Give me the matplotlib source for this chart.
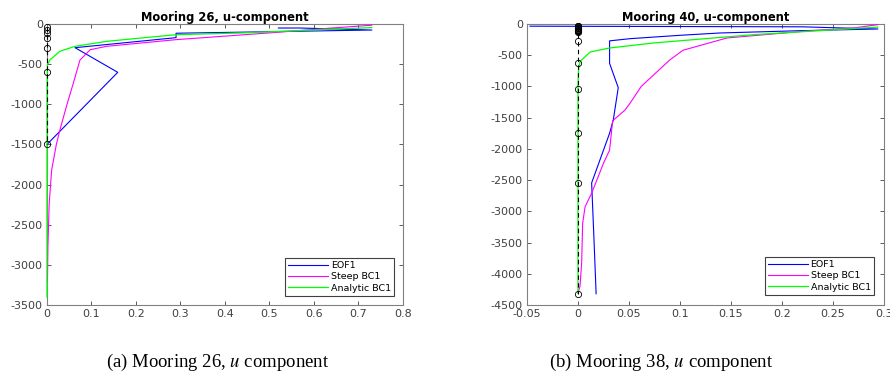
import numpy as np
import matplotlib.pyplot as plt

plt.rcParams['axes.unicode_minus'] = False
plt.rcParams['mathtext.fontset'] = 'stix'

# ---- Mooring 26 profiles (value, depth) ----
m26_eof_x = [0.52, 0.57, 0.73, 0.29, 0.29, 0.063, 0.159, 0.0]
m26_eof_z = [-50, -50, -75, -115, -170, -295, -602, -1500]

m26_steep_x = [0.73, 0.64, 0.51, 0.29, 0.134, 0.097, 0.074, 0.059, 0.045, 0.029,
               0.021, 0.0105, 0.005, 0.002, 0.001]
m26_steep_z = [-15, -50, -107, -195, -278, -320, -450, -740, -1000, -1320,
               -1500, -1820, -2230, -2780, -3200]

m26_anal_x = [0.73, 0.434, 0.29, 0.134, 0.063, 0.029, 0.007, 0.001, 0.0, 0.0]
m26_anal_z = [-45, -112, -133, -216, -278, -340, -445, -510, -800, -3400]

m26_inst_z = [-35, -75, -115, -175, -300, -600, -1500]

# ---- Mooring 40 profiles ----
m40_eof_x = [-0.047, 0.22, 0.294, 0.218, 0.139, 0.10, 0.051, 0.031, 0.031, 0.0395,
             0.0346, 0.031, 0.0134, 0.0144, 0.016, 0.0178]
m40_eof_z = [-35, -45, -80, -107, -144, -181, -235, -270, -630, -1020,
             -1540, -1750, -2545, -2930, -3570, -4320]

m40_steep_x = [0.294, 0.27, 0.221, 0.146, 0.103, 0.09, 0.062, 0.051, 0.046, 0.034,
               0.031, 0.025, 0.0134, 0.007, 0.0046, 0.0036, 0.002, 0.0]
m40_steep_z = [-10, -64, -117, -224, -420, -576, -1000, -1270, -1380, -1550,
               -2020, -2230, -2710, -2925, -3190, -3830, -4200, -4310]

m40_anal_x = [0.294, 0.172, 0.074, 0.031, 0.012, 0.002, 0.0005, 0.0, 0.0]
m40_anal_z = [-50, -171, -304, -384, -448, -600, -740, -1000, -4310]

m40_inst_z = [-30, -40, -50, -60, -70, -80, -90, -100, -110, -120, -135,
              -277, -624, -1041, -1740, -2541, -4328]

fig = plt.figure(figsize=(8.9, 3.89), dpi=100)
ax1 = fig.add_axes([0.0528, 0.2159, 0.4, 0.7224])
ax2 = fig.add_axes([0.5921, 0.2159, 0.4011, 0.7224])

panels = [
    (ax1, 'Mooring 26, u-component', m26_eof_x, m26_eof_z, m26_steep_x, m26_steep_z,
     m26_anal_x, m26_anal_z, m26_inst_z, (0, 0.8), np.arange(0, 0.81, 0.1),
     ['0', '0.1', '0.2', '0.3', '0.4', '0.5', '0.6', '0.7', '0.8'],
     (-3500, 0), np.arange(-3500, 1, 500), (0.975, 0.032)),
    (ax2, 'Mooring 40, u-component', m40_eof_x, m40_eof_z, m40_steep_x, m40_steep_z,
     m40_anal_x, m40_anal_z, m40_inst_z, (-0.05, 0.3), np.arange(-0.05, 0.31, 0.05),
     ['-0.05', '0', '0.05', '0.1', '0.15', '0.2', '0.25', '0.3'],
     (-4500, 0), np.arange(-4500, 1, 500), (0.972, 0.036)),
]

for (ax, title, ex, ez, sx, sz, axx, az, iz, xl, xt, xtl, yl, yt, lpos) in panels:
    ax.plot(ex, ez, color='#0000ff', lw=0.8, label='EOF1', zorder=3, clip_on=False)
    ax.plot(sx, sz, color='#ff00ff', lw=0.8, label='Steep BC1', zorder=3, clip_on=False)
    ax.plot(axx, az, color='#00ff00', lw=0.9, label='Analytic BC1', zorder=3,
            clip_on=False)
    ax.plot(np.zeros(len(iz)), iz, 'k--o', lw=0.8, ms=4.5, mfc='none', mew=0.6,
            dashes=(4, 3), zorder=4, clip_on=False)
    ax.set_xlim(xl)
    ax.set_ylim(yl)
    ax.set_xticks(xt)
    ax.set_xticklabels(xtl)
    ax.set_yticks(yt)
    ax.set_yticklabels([str(int(v)) for v in yt])
    ax.tick_params(direction='in', top=True, right=True, length=3, width=0.6,
                   labelsize=8, labelcolor='#404040', color='#404040', pad=3)
    for s in ax.spines.values():
        s.set_color('#808080')
        s.set_linewidth(0.8)
    ax.set_title(title, fontsize=8.3, fontweight='bold', pad=2)
    leg = ax.legend(loc='lower right', bbox_to_anchor=lpos, borderaxespad=0,
                    fontsize=6.8, handlelength=4.2, labelspacing=0.25,
                    fancybox=False, framealpha=1, borderpad=0.35, handletextpad=0.3)
    leg.get_frame().set_edgecolor('#404040')
    leg.get_frame().set_linewidth(0.8)
    leg.set_zorder(5)

fig.text(218 / 890, 1 - 362 / 389, '(a) Mooring 26, $u$ component', ha='center',
         va='center', fontsize=13.5, family='Liberation Serif')
fig.text(661 / 890, 1 - 362 / 389, '(b) Mooring 38, $u$ component', ha='center',
         va='center', fontsize=13.5, family='Liberation Serif')

fig.savefig('out.png', dpi=100)
